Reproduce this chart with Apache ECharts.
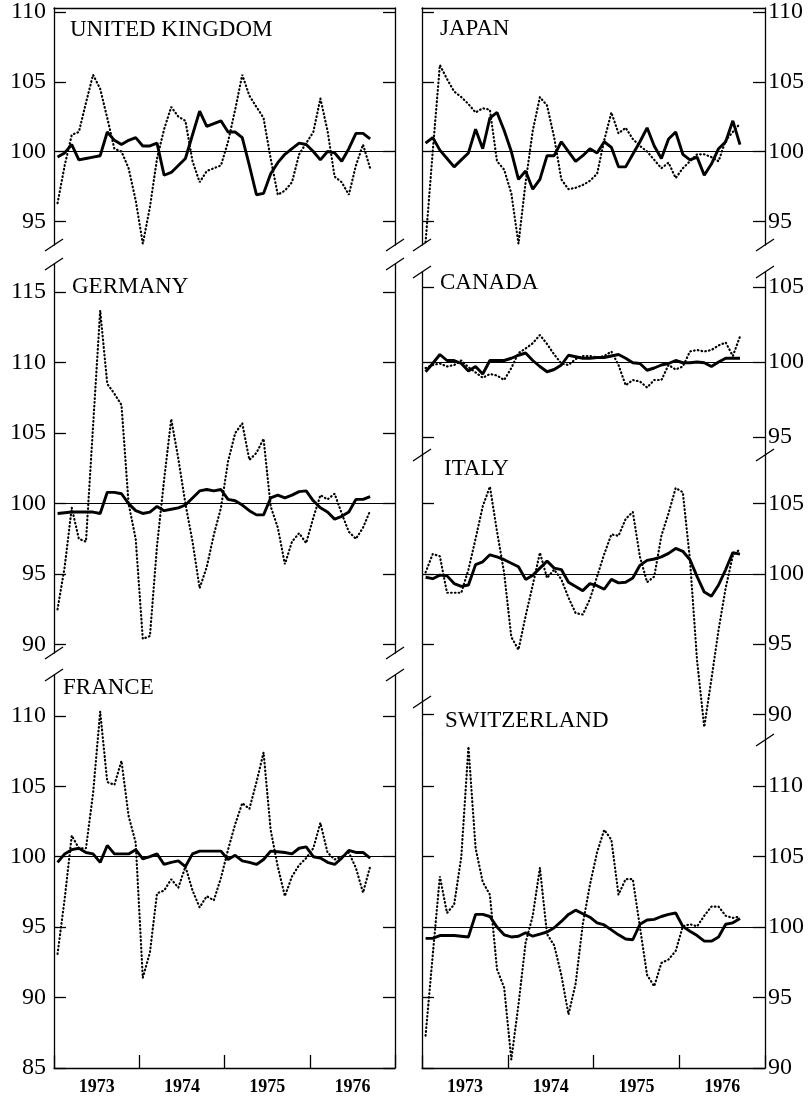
<!DOCTYPE html>
<html>
<head>
<meta charset="utf-8">
<title>Seven countries, 1973-1976</title>
<script src="https://cdn.jsdelivr.net/npm/echarts@6/dist/echarts.min.js"></script>
<style>
    html, body { margin: 0; padding: 0; background: #fff; }
    #main { width: 812px; height: 1097px; }
</style>
</head>
<body>
<div id="main"></div>
<script>
    const years = ['1973', '1974', '1975', '1976'];
    const monthNames = ['Jan', 'Feb', 'Mar', 'Apr', 'May', 'Jun', 'Jul', 'Aug', 'Sep', 'Oct', 'Nov', 'Dec'];
    const months = [];
    years.forEach(y => monthNames.forEach(m => months.push(m + ' ' + y)));

    // solid = heavy line, dotted = dotted line (Jan 1973 .. Sep 1976)
    const ukSolid = [99.6, 99.9, 100.5, 99.4, 99.5, 99.6, 99.7, 101.4, 100.8, 100.5, 100.8, 101.0, 100.4, 100.4, 100.6, 98.3, 98.5, 99.0, 99.5, 101.2, 102.9, 101.8, 102.0, 102.2, 101.4, 101.4, 101.0, 99.0, 96.9, 97.0, 98.4, 99.2, 99.8, 100.2, 100.6, 100.5, 100.0, 99.4, 100.0, 99.9, 99.3, 100.2, 101.3, 101.3, 100.9];
    const ukDotted = [96.3, 99.0, 101.2, 101.4, 103.5, 105.5, 104.5, 102.4, 100.2, 100.0, 98.8, 96.5, 93.4, 96.0, 99.5, 101.6, 103.2, 102.5, 102.2, 99.3, 97.8, 98.6, 98.8, 99.0, 100.7, 103.0, 105.5, 104.0, 103.2, 102.4, 99.5, 96.9, 97.2, 97.8, 99.8, 100.6, 101.4, 103.8, 101.5, 98.2, 97.8, 96.9, 99.0, 100.5, 98.8];
    const jpSolid = [100.6, 101.0, 100.1, 99.5, 98.9, 99.4, 99.9, 101.6, 100.2, 102.4, 102.8, 101.5, 100.0, 98.0, 98.6, 97.3, 98.0, 99.7, 99.7, 100.7, 100.0, 99.3, 99.7, 100.2, 99.9, 100.7, 100.3, 98.9, 98.9, 99.8, 100.7, 101.7, 100.4, 99.5, 100.9, 101.4, 99.8, 99.4, 99.6, 98.3, 99.1, 100.2, 100.7, 102.2, 100.5];
    const jpDotted = [93.5, 100.0, 106.2, 105.2, 104.3, 103.9, 103.4, 102.8, 103.1, 103.0, 99.3, 98.7, 97.0, 93.4, 97.8, 101.5, 103.9, 103.3, 101.0, 98.0, 97.3, 97.4, 97.6, 97.9, 98.4, 100.8, 102.8, 101.3, 101.7, 100.9, 100.4, 100.0, 99.4, 98.8, 99.2, 98.1, 98.8, 99.3, 99.8, 99.8, 99.6, 99.3, 100.8, 101.4, 102.0];
    const deSolid = [99.3, 99.35, 99.4, 99.4, 99.4, 99.4, 99.3, 100.8, 100.8, 100.7, 100.0, 99.5, 99.3, 99.4, 99.8, 99.5, 99.6, 99.7, 99.9, 100.4, 100.9, 101.0, 100.9, 101.0, 100.3, 100.2, 99.9, 99.5, 99.2, 99.2, 100.4, 100.6, 100.4, 100.6, 100.85, 100.9, 100.2, 99.7, 99.4, 98.9, 99.1, 99.4, 100.3, 100.3, 100.5];
    const deDotted = [92.5, 95.5, 99.7, 97.5, 97.3, 105.5, 113.7, 108.5, 107.8, 107.0, 100.0, 97.5, 90.4, 90.6, 97.0, 101.7, 106.0, 103.2, 100.0, 97.3, 94.0, 95.5, 97.8, 99.7, 103.0, 105.0, 105.7, 103.1, 103.6, 104.6, 99.8, 98.3, 95.7, 97.3, 97.9, 97.2, 99.0, 100.6, 100.3, 100.7, 99.3, 98.0, 97.5, 98.3, 99.5];
    const caSolid = [99.35, 99.9, 100.5, 100.1, 100.1, 99.9, 99.4, 99.7, 99.2, 100.1, 100.1, 100.1, 100.25, 100.45, 100.6, 100.1, 99.7, 99.35, 99.5, 99.8, 100.45, 100.35, 100.25, 100.25, 100.3, 100.3, 100.4, 100.5, 100.25, 99.95, 99.9, 99.45, 99.6, 99.8, 99.9, 100.1, 99.95, 99.95, 100.0, 99.95, 99.7, 100.0, 100.25, 100.25, 100.25];
    const caDotted = [99.6, 99.8, 99.9, 99.7, 99.8, 100.1, 99.65, 99.3, 98.95, 99.2, 99.1, 98.8, 99.6, 100.6, 100.9, 101.25, 101.8, 101.2, 100.5, 99.9, 99.8, 100.2, 100.4, 100.4, 100.3, 100.4, 100.7, 99.8, 98.45, 98.8, 98.7, 98.3, 98.8, 98.8, 99.8, 99.5, 99.7, 100.7, 100.8, 100.7, 100.8, 101.1, 101.3, 100.4, 101.7];
    const itSolid = [99.75, 99.65, 99.9, 99.85, 99.3, 99.1, 99.2, 100.65, 100.85, 101.35, 101.2, 101.0, 100.75, 100.5, 99.6, 99.9, 100.4, 100.9, 100.4, 100.3, 99.4, 99.1, 98.8, 99.3, 99.15, 98.9, 99.6, 99.35, 99.4, 99.7, 100.6, 100.95, 101.05, 101.2, 101.45, 101.8, 101.6, 101.0, 99.8, 98.7, 98.4, 99.2, 100.3, 101.5, 101.4];
    const itDotted = [100.1, 101.4, 101.25, 98.65, 98.65, 98.65, 100.3, 102.5, 104.8, 106.2, 103.0, 100.05, 95.5, 94.6, 97.0, 99.2, 101.5, 99.7, 100.3, 99.6, 98.3, 97.2, 97.1, 98.2, 99.8, 101.4, 102.8, 102.7, 103.9, 104.4, 101.2, 99.4, 99.8, 102.7, 104.3, 106.1, 105.8, 101.0, 93.8, 89.1, 92.5, 96.0, 99.0, 101.3, 101.75];
    const frSolid = [99.6, 100.2, 100.5, 100.6, 100.3, 100.2, 99.6, 100.8, 100.2, 100.2, 100.2, 100.5, 99.85, 100.0, 100.2, 99.45, 99.6, 99.7, 99.3, 100.2, 100.4, 100.4, 100.4, 100.4, 99.8, 100.1, 99.7, 99.6, 99.45, 99.8, 100.4, 100.35, 100.3, 100.2, 100.6, 100.7, 100.0, 99.9, 99.6, 99.45, 99.9, 100.45, 100.3, 100.3, 99.9];
    const frDotted = [93.1, 97.0, 101.5, 100.6, 100.6, 104.5, 110.3, 105.3, 105.1, 106.8, 102.9, 101.0, 91.4, 93.2, 97.4, 97.6, 98.4, 97.8, 99.3, 97.6, 96.4, 97.2, 96.9, 98.5, 100.5, 102.3, 103.8, 103.4, 105.3, 107.4, 101.9, 99.3, 97.2, 98.6, 99.4, 99.9, 100.6, 102.4, 100.3, 99.8, 100.0, 100.3, 99.2, 97.45, 99.3];
    const chSolid = [99.2, 99.2, 99.4, 99.4, 99.4, 99.35, 99.3, 100.9, 100.9, 100.75, 100.0, 99.45, 99.3, 99.35, 99.6, 99.35, 99.5, 99.65, 99.95, 100.4, 100.9, 101.2, 100.95, 100.7, 100.3, 100.15, 99.8, 99.45, 99.15, 99.1, 100.2, 100.5, 100.55, 100.75, 100.9, 101.0, 100.05, 99.7, 99.4, 99.0, 99.0, 99.3, 100.2, 100.3, 100.6];
    const chDotted = [92.3, 98.0, 103.6, 101.0, 101.6, 105.0, 112.8, 105.6, 103.2, 102.3, 97.0, 95.7, 90.6, 94.5, 98.9, 100.8, 104.2, 99.5, 98.7, 96.6, 93.8, 96.0, 100.2, 103.0, 105.3, 106.9, 106.2, 102.3, 103.4, 103.4, 100.0, 96.6, 95.8, 97.45, 97.7, 98.3, 100.05, 100.2, 100.05, 100.8, 101.45, 101.45, 100.8, 100.65, 100.75];

    const ukTicks = [95, 100, 105, 110];
    const deTicks = [90, 95, 100, 105, 110, 115];
    const caTicks = [95, 100, 105];
    const itTicks = [90, 95, 100, 105];
    const frTicks = [85, 90, 95, 100, 105, 110];
    const chTicks = [90, 95, 100, 105, 110];

    const SERIF = '"Liberation Serif", "DejaVu Serif", serif';

    // panel layout
    const panels = [
        { title: 'UNITED KINGDOM', solid: ukSolid, dotted: ukDotted, ticks: ukTicks, left: 54, top: 5, width: 341, height: 240, min: 93.3, max: 110.3, side: 'left', topLine: true, bottom: false, tx: 70, ty: 30 },
        { title: 'JAPAN', solid: jpSolid, dotted: jpDotted, ticks: ukTicks, left: 422, top: 5, width: 343, height: 240, min: 93.3, max: 110.3, side: 'right', topLine: true, bottom: false, tx: 440, ty: 29 },
        { title: 'GERMANY', solid: deSolid, dotted: deDotted, ticks: deTicks, left: 54, top: 264, width: 341, height: 389, min: 89.4, max: 117, side: 'left', topLine: false, bottom: false, tx: 72, ty: 287 },
        { title: 'CANADA', solid: caSolid, dotted: caDotted, ticks: caTicks, left: 422, top: 272, width: 343, height: 183, min: 93.8, max: 106, side: 'right', topLine: false, bottom: false, tx: 440, ty: 283 },
        { title: 'ITALY', solid: itSolid, dotted: itDotted, ticks: itTicks, left: 422, top: 455, width: 343, height: 279, min: 88.6, max: 108.45, side: 'right', topLine: false, bottom: false, tx: 444, ty: 469 },
        { title: 'FRANCE', solid: frSolid, dotted: frDotted, ticks: frTicks, left: 54, top: 675, width: 341, height: 393, min: 85, max: 112.9, side: 'left', topLine: false, bottom: true, tx: 63, ty: 688 },
        { title: 'SWITZERLAND', solid: chSolid, dotted: chDotted, ticks: chTicks, left: 422, top: 734, width: 343, height: 334, min: 90, max: 113.7, side: 'right', topLine: false, bottom: true, tx: 445, ty: 721 }
    ];

    // axis break marks
    const breaks = [
        [54, 245], [395, 245], [54, 264], [395, 264],
        [54, 653], [395, 653], [54, 675], [395, 675],
        [422, 245], [765, 245], [422, 272], [765, 272],
        [422, 455], [765, 455], [422, 702], [765, 740]
    ];

    const axisLine = { show: true, lineStyle: { color: '#000', width: 1.3 } };
    const grid = [], xAxis = [], yAxis = [], series = [];

    panels.forEach((p, i) => {
        grid.push({ left: p.left, top: p.top, width: p.width, height: p.height });

        xAxis.push({
            type: 'category', gridIndex: i, data: months, boundaryGap: true, position: 'top',
            axisLine: { show: p.topLine, lineStyle: { color: '#000', width: 1.3 } },
            axisTick: { show: false }, axisLabel: { show: false }, splitLine: { show: false }
        });
        xAxis.push({
            type: 'category', gridIndex: i, data: years, boundaryGap: true, position: 'bottom',
            show: p.bottom,
            axisLine: axisLine,
            axisTick: { show: true, inside: true, length: 13, lineStyle: { color: '#000', width: 1.3 } },
            axisLabel: { show: true, margin: 10, color: '#000', fontFamily: SERIF, fontWeight: 'bold', fontSize: 18 },
            splitLine: { show: false }
        });

        ['left', 'right'].forEach(pos => {
            yAxis.push({
                type: 'value', gridIndex: i, position: pos, min: p.min, max: p.max,
                axisLine: axisLine,
                axisTick: { show: true, inside: true, length: 12, customValues: p.ticks, lineStyle: { color: '#000', width: 1.3 } },
                axisLabel: {
                    show: pos === p.side, customValues: p.ticks, margin: pos === 'left' ? 8 : 3,
                    color: '#000', fontFamily: SERIF, fontSize: 24
                },
                splitLine: { show: false }
            });
        });

        series.push({
            type: 'line', xAxisIndex: 2 * i, yAxisIndex: 2 * i, data: p.dotted,
            symbol: 'none', silent: true,
            lineStyle: { color: '#000', width: 2.2, type: [0.6, 3.2], cap: 'round' }
        });
        series.push({
            type: 'line', xAxisIndex: 2 * i, yAxisIndex: 2 * i, data: p.solid,
            symbol: 'none', silent: true,
            lineStyle: { color: '#000', width: 2.9 },
            markLine: {
                silent: true, symbol: 'none', label: { show: false },
                lineStyle: { color: '#000', width: 1.2, type: 'solid' },
                data: [{ yAxis: 100 }]
            }
        });
    });

    const graphic = panels.map(p => ({
        type: 'text', x: p.tx, y: p.ty,
        style: { text: p.title, fill: '#000', font: '23px ' + SERIF, verticalAlign: 'middle' }
    })).concat(breaks.map(b => ({
        type: 'line',
        shape: { x1: b[0] - 9, y1: b[1] + 6, x2: b[0] + 9, y2: b[1] - 6 },
        style: { stroke: '#000', lineWidth: 1.3 }
    })));

    const chart = echarts.init(document.getElementById('main'));
    chart.setOption({
        backgroundColor: '#fff',
        animation: false,
        grid: grid,
        xAxis: xAxis,
        yAxis: yAxis,
        series: series,
        graphic: graphic
    });
</script>
</body>
</html>
